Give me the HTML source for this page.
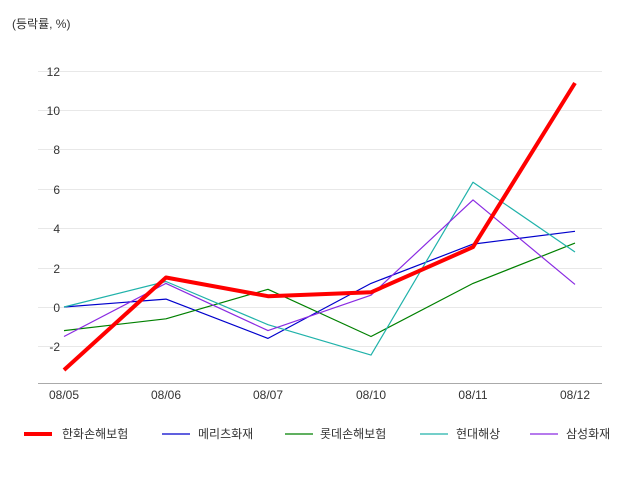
<!DOCTYPE html>
<html><head><meta charset="utf-8"><style>
html,body{margin:0;padding:0;background:#fff;}
svg{display:block;font-family:"Liberation Sans","Noto Sans CJK KR",sans-serif;}
</style></head><body>
<svg width="640" height="480" viewBox="0 0 640 480">
<text x="12" y="28" font-size="12" fill="#333">(등락률, %)</text>
<g stroke="#e8e8e8" stroke-width="1">
<line x1="38" x2="602" y1="71.5" y2="71.5"/><line x1="38" x2="602" y1="110.5" y2="110.5"/>
<line x1="38" x2="602" y1="149.5" y2="149.5"/><line x1="38" x2="602" y1="189.5" y2="189.5"/>
<line x1="38" x2="602" y1="228.5" y2="228.5"/><line x1="38" x2="602" y1="268.5" y2="268.5"/>
<line x1="38" x2="602" y1="307.5" y2="307.5"/><line x1="38" x2="602" y1="346.5" y2="346.5"/>
</g>
<line x1="38" x2="602" y1="383.5" y2="383.5" stroke="#aaa"/>
<g font-size="12" fill="#333" text-anchor="end">
<text x="60" y="76">12</text><text x="60" y="115">10</text><text x="60" y="154">8</text>
<text x="60" y="194">6</text><text x="60" y="233">4</text><text x="60" y="273">2</text>
<text x="60" y="312">0</text><text x="60" y="351">-2</text>
</g>
<g font-size="12" fill="#333" text-anchor="middle">
<text x="64" y="399">08/05</text><text x="166" y="399">08/06</text><text x="268" y="399">08/07</text>
<text x="371" y="399">08/10</text><text x="473" y="399">08/11</text><text x="575" y="399">08/12</text>
</g>
<g fill="none" stroke-linejoin="round">
<polyline stroke="#0000cc" stroke-width="1.2" points="64,307 166,299.1 268,338.4 371,283.4 473,244.1 575,231.3"/>
<polyline stroke="#008000" stroke-width="1.2" points="64,330.6 166,318.8 268,289.3 371,336.5 473,283.4 575,243.1"/>
<polyline stroke="#20b2aa" stroke-width="1.2" points="64,307 166,281.5 268,324.7 371,355.1 473,182.2 575,252"/>
<polyline stroke="#8a2be2" stroke-width="1.2" points="64,336.5 166,283.4 268,330.6 371,295.2 473,199.9 575,284.4"/>
<polyline stroke="#ff0000" stroke-width="4" points="64,370 166,277.5 268,296.2 371,292.3 473,247.1 575,83"/>
</g>
<g font-size="12" fill="#333">
<line x1="24" x2="52" y1="434" y2="434" stroke="#ff0000" stroke-width="4"/><text x="62" y="438">한화손해보험</text>
<line x1="162" x2="190" y1="434" y2="434" stroke="#0000cc" stroke-width="1.2"/><text x="198" y="438">메리츠화재</text>
<line x1="285" x2="313" y1="434" y2="434" stroke="#008000" stroke-width="1.2"/><text x="320" y="438">롯데손해보험</text>
<line x1="420" x2="448" y1="434" y2="434" stroke="#20b2aa" stroke-width="1.2"/><text x="456" y="438">현대해상</text>
<line x1="530" x2="558" y1="434" y2="434" stroke="#8a2be2" stroke-width="1.2"/><text x="566" y="438">삼성화재</text>
</g>
</svg>
</body></html>
